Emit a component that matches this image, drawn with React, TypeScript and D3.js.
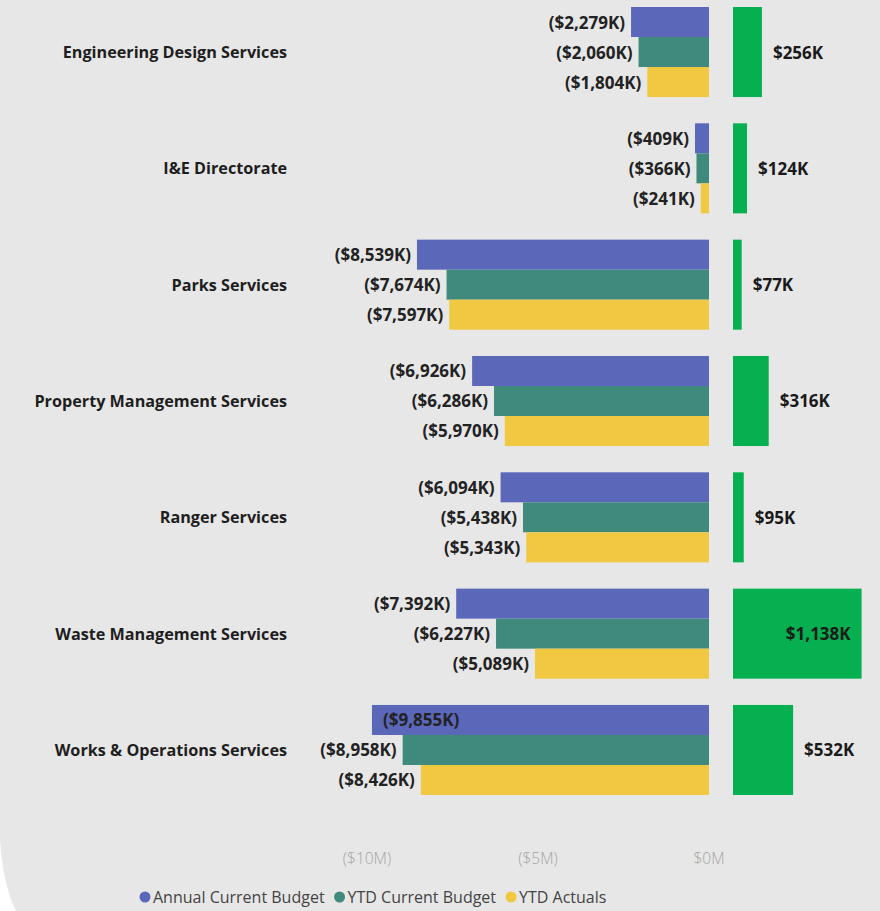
import React, { useEffect, useRef } from 'react';
import * as d3 from 'd3';

const categories = [
  'Engineering Design Services',
  'I&E Directorate',
  'Parks Services',
  'Property Management Services',
  'Ranger Services',
  'Waste Management Services',
  'Works & Operations Services',
];
const seriesNames = ['Annual Current Budget', 'YTD Current Budget', 'YTD Actuals'];
// values in $K (negative = spend)
const annualBudget = [-2279, -409, -8539, -6926, -6094, -7392, -9855];
const ytdBudget = [-2060, -366, -7674, -6286, -5438, -6227, -8958];
const ytdActuals = [-1804, -241, -7597, -5970, -5343, -5089, -8426];
const variance = [256, 124, 77, 316, 95, 1138, 532];
const xTicks = [-10000, -5000, 0];

const colors = ['#5b67b9', '#3f8a7c', '#f0c841'];
const green = '#06b050';
const font = '"Open Sans", "DejaVu Sans", sans-serif';

function App() {
  const ref = useRef<SVGSVGElement>(null);

  useEffect(() => {
    const width = 880;
    const height = 911;
    const svg = d3.select(ref.current);
    svg.selectAll('*').remove();
    svg.attr('width', width).attr('height', height);

    svg.append('rect').attr('width', width).attr('height', height).attr('fill', '#e7e7e7');
    // white curved corner bottom-left
    svg.append('path')
      .attr('d', `M0,840 Q3,885 16,${height} L0,${height} Z`)
      .attr('fill', '#ffffff');

    const x = d3.scaleLinear().domain([-10000, 0]).range([367, 709]);
    const xg = d3.scaleLinear().domain([0, 1000]).range([733, 846]);
    const y = d3.scaleBand().domain(categories).range([7, 795]).paddingInner(0.226).paddingOuter(0);
    const ySub = d3.scaleBand().domain(seriesNames).range([0, y.bandwidth()]).padding(0);
    const series = [annualBudget, ytdBudget, ytdActuals];

    const fmtK = (v: number) => {
      const s = '$' + d3.format(',')(Math.abs(v)) + 'K';
      return v < 0 ? `(${s})` : s;
    };

    const groups = svg.selectAll('g.cat')
      .data(categories)
      .enter()
      .append('g')
      .attr('class', 'cat')
      .attr('transform', d => `translate(0,${y(d)})`);

    // category labels
    groups.append('text')
      .attr('x', 287)
      .attr('y', y.bandwidth() / 2)
      .attr('text-anchor', 'end')
      .attr('dominant-baseline', 'central')
      .attr('font-family', font)
      .attr('font-weight', 700)
      .attr('font-size', 16.2)
      .attr('fill', '#1e1e1e')
      .text(d => d);

    seriesNames.forEach((name, si) => {
      groups.append('rect')
        .attr('x', (_, i) => x(series[si][i]))
        .attr('y', ySub(name)!)
        .attr('width', (_, i) => x(0) - x(series[si][i]))
        .attr('height', ySub.bandwidth())
        .attr('fill', colors[si]);

      groups.append('text')
        .attr('y', ySub(name)! + ySub.bandwidth() / 2)
        .attr('dominant-baseline', 'central')
        .attr('font-family', font)
        .attr('font-weight', 700)
        .attr('font-size', 17)
        .attr('fill', '#222')
        .text((_, i) => fmtK(series[si][i]))
        .each(function (_, i) {
          const t = d3.select(this);
          const w = (this as SVGTextElement).getComputedTextLength();
          const left = x(series[si][i]);
          if (left - 6 - w < 295) {
            t.attr('x', left + 11).attr('text-anchor', 'start');
          } else {
            t.attr('x', left - 6).attr('text-anchor', 'end');
          }
        });
    });

    // variance bars
    groups.append('rect')
      .attr('x', xg(0))
      .attr('y', 0)
      .attr('width', (_, i) => xg(variance[i]) - xg(0))
      .attr('height', y.bandwidth())
      .attr('fill', green);

    groups.append('text')
      .attr('y', y.bandwidth() / 2)
      .attr('dominant-baseline', 'central')
      .attr('font-family', font)
      .attr('font-weight', 700)
      .attr('font-size', 17)
      .attr('fill', '#1a1a1a')
      .text((_, i) => fmtK(variance[i]))
      .each(function (_, i) {
        const t = d3.select(this);
        const w = (this as SVGTextElement).getComputedTextLength();
        const right = xg(variance[i]);
        if (right + 11 + w > width - 4) {
          t.attr('x', right - 11).attr('text-anchor', 'end');
        } else {
          t.attr('x', right + 11).attr('text-anchor', 'start');
        }
      });

    // x axis labels
    const fmtM = (v: number) => (v < 0 ? `($${Math.abs(v) / 1000}M)` : `$${v / 1000}M`);
    svg.append('g')
      .selectAll('text')
      .data(xTicks)
      .enter()
      .append('text')
      .attr('x', d => x(d))
      .attr('y', 858)
      .attr('text-anchor', 'middle')
      .attr('dominant-baseline', 'central')
      .attr('font-family', font)
      .attr('font-weight', 300)
      .attr('font-size', 15.5)
      .attr('fill', '#a3a3a3')
      .text(d => fmtM(d));

    // legend
    const legend = svg.append('g').attr('transform', 'translate(145,897)');
    let lx = 0;
    seriesNames.forEach((name, i) => {
      legend.append('circle').attr('cx', lx).attr('cy', 0).attr('r', 5.5).attr('fill', colors[i]);
      const t = legend.append('text')
        .attr('x', lx + 8)
        .attr('y', 0)
        .attr('dominant-baseline', 'central')
        .attr('font-family', font)
        .attr('font-size', 16)
        .attr('fill', '#444')
        .text(name);
      lx += 8 + (t.node() as SVGTextElement).getComputedTextLength() + 15;
    });
  }, []);

  return <svg ref={ref} style={{ position: 'absolute', left: 0, top: 0, display: 'block' }} />;
}

export default App;
